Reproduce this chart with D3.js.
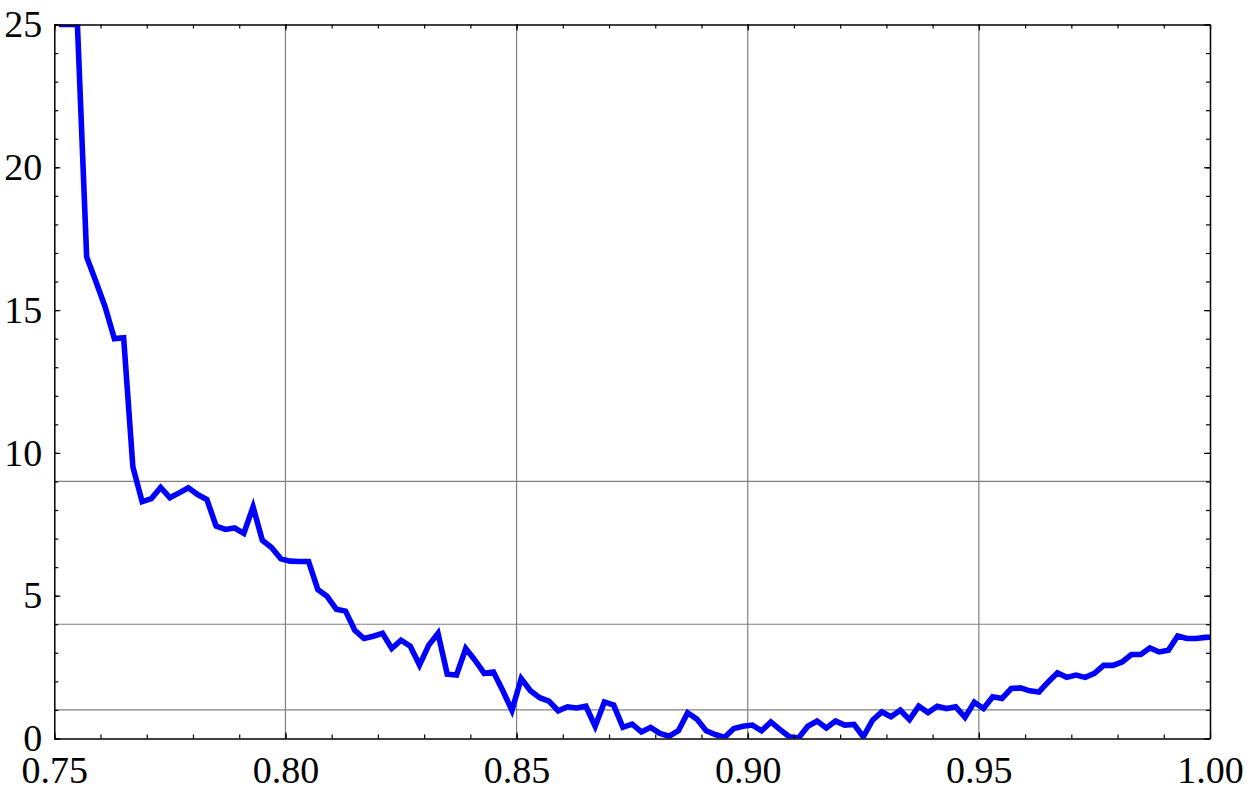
<!DOCTYPE html>
<html>
<head>
<meta charset="utf-8">
<script src="https://cdn.jsdelivr.net/npm/d3@7"></script>
<style>
  html, body { margin: 0; padding: 0; background: #fff; }
  svg { display: block; }
  .tick text { font-family: "Liberation Serif", "Times New Roman", serif; font-size: 38px; fill: #000; }
</style>
</head>
<body>
<svg id="chart" width="1250" height="800"></svg>
<script>
// ---- data ----
const xStart = 0.751;
const xStep = 0.002;
const yValues = [
  25, 25, 25, 16.86, 16.0, 15.11, 14.0, 14.03, 9.51, 8.29,
  8.40, 8.79, 8.43, 8.60, 8.78, 8.54, 8.37, 7.44, 7.32, 7.37,
  7.18, 8.11, 6.94, 6.69, 6.29, 6.21, 6.20, 6.20, 5.22, 4.98,
  4.53, 4.46, 3.79, 3.50, 3.58, 3.68, 3.15, 3.44, 3.23, 2.57,
  3.27, 3.68, 2.25, 2.22, 3.15, 2.74, 2.28, 2.33, 1.68, 0.99,
  2.10, 1.67, 1.43, 1.31, 0.97, 1.11, 1.07, 1.13, 0.43, 1.28,
  1.17, 0.39, 0.50, 0.23, 0.39, 0.18, 0.08, 0.27, 0.90, 0.68,
  0.27, 0.14, 0.04, 0.35, 0.43, 0.47, 0.27, 0.58, 0.31, 0.06,
  0.02, 0.43, 0.61, 0.37, 0.61, 0.47, 0.49, 0.06, 0.64, 0.93,
  0.76, 0.99, 0.66, 1.13, 0.91, 1.13, 1.05, 1.11, 0.74, 1.27,
  1.05, 1.46, 1.40, 1.75, 1.77, 1.67, 1.63, 1.98, 2.30, 2.14,
  2.22, 2.14, 2.28, 2.56, 2.56, 2.68, 2.94, 2.94, 3.17, 3.03,
  3.09, 3.59, 3.50, 3.50, 3.54, 3.55
];
const xTicks = [0.75, 0.80, 0.85, 0.90, 0.95, 1.00];
const xMinorTicks = d3.range(0, 26).map(i => 0.75 + i * 0.01);
const yTicks = [0, 5, 10, 15, 20, 25];
const yMinorTicks = d3.range(0, 26);
const xGrid = [0.80, 0.85, 0.90, 0.95];
const yGrid = [1, 4, 9];

const points = yValues.map((v, i) => ({ x: xStart + i * xStep, y: v }));

// ---- layout ----
const pLeft = 54.3, pRight = 1210, pTop = 24.5, pBottom = 738.5;
const svg = d3.select("#chart");
const x = d3.scaleLinear().domain([0.75, 1.00]).range([pLeft, pRight]);
const y = d3.scaleLinear().domain([0, 25]).range([pBottom, pTop]);

svg.append("defs").append("clipPath").attr("id", "clip")
  .append("rect").attr("x", pLeft).attr("y", pTop)
  .attr("width", pRight - pLeft).attr("height", pBottom - pTop);

// grid
const grid = svg.append("g").attr("stroke", "#808080").attr("stroke-width", 1.2);
grid.selectAll("line.gx").data(xGrid).join("line").attr("class", "gx")
  .attr("x1", d => x(d)).attr("x2", d => x(d)).attr("y1", pTop).attr("y2", pBottom);
grid.selectAll("line.gy").data(yGrid).join("line").attr("class", "gy")
  .attr("x1", pLeft).attr("x2", pRight).attr("y1", d => y(d)).attr("y2", d => y(d));

// curve
const line = d3.line().x(d => x(d.x)).y(d => y(d.y));
svg.append("path").datum(points)
  .attr("clip-path", "url(#clip)")
  .attr("fill", "none").attr("stroke", "#0000ff")
  .attr("stroke-width", 5.6).attr("stroke-linejoin", "miter")
  .attr("d", line);

// axes
function styleAxis(g) {
  g.selectAll("path.domain").attr("stroke", "#000").attr("stroke-width", 1.5);
  g.selectAll(".tick line").attr("stroke", "#000").attr("stroke-width", 1.2);
}
const fmt = d3.format(".2f");

// minor ticks
svg.append("g").attr("transform", `translate(0,${pBottom})`)
  .call(d3.axisBottom(x).tickValues(xMinorTicks).tickSize(-4).tickFormat("").tickSizeOuter(0)).call(styleAxis);
svg.append("g").attr("transform", `translate(0,${pTop})`)
  .call(d3.axisTop(x).tickValues(xMinorTicks).tickSize(-4).tickFormat("").tickSizeOuter(0)).call(styleAxis);
svg.append("g").attr("transform", `translate(${pLeft},0)`)
  .call(d3.axisLeft(y).tickValues(yMinorTicks).tickSize(-4).tickFormat("").tickSizeOuter(0)).call(styleAxis);
svg.append("g").attr("transform", `translate(${pRight},0)`)
  .call(d3.axisRight(y).tickValues(yMinorTicks).tickSize(-4).tickFormat("").tickSizeOuter(0)).call(styleAxis);

// major ticks with labels
const gx = svg.append("g").attr("transform", `translate(0,${pBottom})`)
  .call(d3.axisBottom(x).tickValues(xTicks).tickSize(-6).tickPadding(18).tickFormat(fmt).tickSizeOuter(0))
  .call(styleAxis);
gx.select("path.domain").remove();
const gy = svg.append("g").attr("transform", `translate(${pLeft},0)`)
  .call(d3.axisLeft(y).tickValues(yTicks).tickSize(-6).tickPadding(12).tickFormat(d3.format("d")).tickSizeOuter(0))
  .call(styleAxis);
gy.select("path.domain").remove();
svg.append("g").attr("transform", `translate(0,${pTop})`)
  .call(d3.axisTop(x).tickValues(xTicks).tickSize(-6).tickFormat("").tickSizeOuter(0)).call(styleAxis)
  .select("path.domain").remove();
svg.append("g").attr("transform", `translate(${pRight},0)`)
  .call(d3.axisRight(y).tickValues(yTicks).tickSize(-6).tickFormat("").tickSizeOuter(0)).call(styleAxis)
  .select("path.domain").remove();
</script>
</body>
</html>
